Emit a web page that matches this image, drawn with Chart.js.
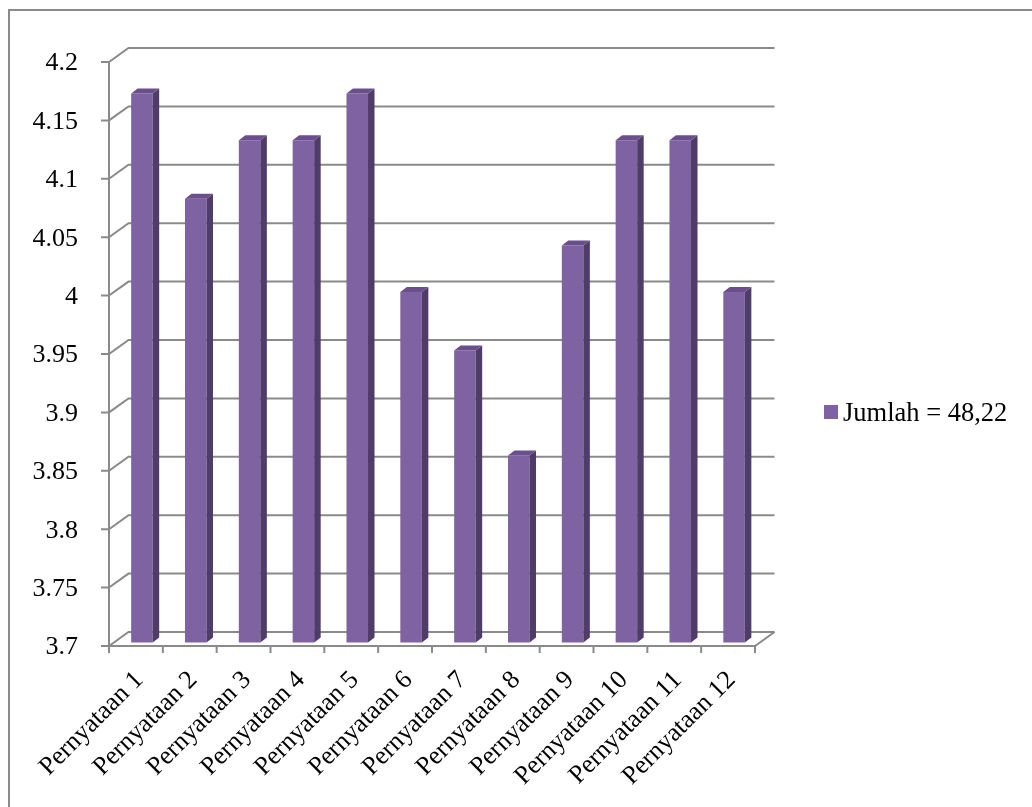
<!DOCTYPE html>
<html>
<head>
<meta charset="utf-8">
<title>Pernyataan</title>
<script src="https://cdn.jsdelivr.net/npm/chart.js@4.4.1/dist/chart.umd.min.js"></script>
<style>
  body { margin: 0; background: #fff; }
  #page { position: relative; width: 1032px; height: 807px; overflow: hidden; background: #fff; }
  #frame { position: absolute; left: 8px; top: 9px; width: 1060px; height: 840px; border: 2px solid #8a8a8a; }
  #box { position: absolute; left: 0; top: 0; width: 1032px; height: 807px; }
  #legend { position: absolute; left: 824px; top: 397px; font: 26.5px "Liberation Serif", "Times New Roman", serif; line-height: 30px; color: #000; }
  #legend .swatch { position: absolute; left: 0; top: 8px; width: 14px; height: 14px; }
  #legend .text { position: absolute; left: 19px; top: 0; white-space: nowrap; }
</style>
</head>
<body>
<div id="page">
  <div id="frame"></div>
  <div id="box"><canvas id="chart"></canvas></div>
  <div id="legend"></div>
</div>
<script>
const categories = ['Pernyataan 1', 'Pernyataan 2', 'Pernyataan 3', 'Pernyataan 4', 'Pernyataan 5', 'Pernyataan 6',
                    'Pernyataan 7', 'Pernyataan 8', 'Pernyataan 9', 'Pernyataan 10', 'Pernyataan 11', 'Pernyataan 12'];
const values = [4.17, 4.08, 4.13, 4.13, 4.17, 4.00, 3.95, 3.86, 4.04, 4.13, 4.13, 4.00];
const yTicks = [3.7, 3.75, 3.8, 3.85, 3.9, 3.95, 4, 4.05, 4.1, 4.15, 4.2];
const seriesLabel = 'Jumlah = 48,22';

const FRONT = { dx: -6, dy: 3.5 };    // front plane (axes) relative to bar faces
const BACK = { dx: 13.5, dy: -10.5 }; // back wall relative to bar faces
const DEPTH = { dx: 6.5, dy: -5 };    // depth of each bar
const GRID = '#8a8a8a';
const BAR_FRONT = '#7f62a1', BAR_TOP = '#6a4f8c', BAR_SIDE = '#4f3c68';
const serif = 'Liberation Serif, Times New Roman, serif';

Chart.defaults.font.family = serif;
Chart.defaults.color = '#000';

// draws the 3D walls, floor and axis lines behind the bars, then the bar sides on top
const frame3d = {
    id: 'frame3d',
    beforeDatasetsDraw(chart) {
        const { ctx, chartArea: a, scales: { x, y } } = chart;
        ctx.save();
        ctx.strokeStyle = GRID;
        ctx.lineWidth = 2;
        y.ticks.forEach(t => {
            const py = y.getPixelForValue(t.value);
            ctx.beginPath();
            ctx.moveTo(a.left + FRONT.dx - 8, py + FRONT.dy);
            ctx.lineTo(a.left + FRONT.dx, py + FRONT.dy);
            ctx.lineTo(a.left + BACK.dx, py + BACK.dy);
            ctx.lineTo(a.right + BACK.dx, py + BACK.dy);
            ctx.stroke();
        });
        // front value axis
        ctx.beginPath();
        ctx.moveTo(a.left + FRONT.dx, a.top + FRONT.dy);
        ctx.lineTo(a.left + FRONT.dx, a.bottom + FRONT.dy);
        ctx.stroke();
        // floor edges
        ctx.beginPath();
        ctx.moveTo(a.left + FRONT.dx, a.bottom + FRONT.dy);
        ctx.lineTo(a.right + FRONT.dx, a.bottom + FRONT.dy);
        ctx.lineTo(a.right + BACK.dx, a.bottom + BACK.dy);
        ctx.stroke();
        // category tick marks
        for (let i = 0; i <= categories.length; i++) {
            const px = x.getPixelForValue(i - 0.5) + FRONT.dx;
            ctx.beginPath();
            ctx.moveTo(px, a.bottom + FRONT.dy);
            ctx.lineTo(px, a.bottom + FRONT.dy + 7);
            ctx.stroke();
        }
        ctx.restore();
    },
    afterDatasetsDraw(chart) {
        const ctx = chart.ctx;
        const floor = chart.chartArea.bottom;
        ctx.save();
        chart.getDatasetMeta(0).data.forEach(bar => {
            const { x, y, base, width } = bar.getProps(['x', 'y', 'base', 'width'], true);
            const b = Math.min(base, floor);
            const l = x - width / 2, r = x + width / 2;
            ctx.fillStyle = BAR_SIDE;
            ctx.beginPath();
            ctx.moveTo(r, y);
            ctx.lineTo(r + DEPTH.dx, y + DEPTH.dy);
            ctx.lineTo(r + DEPTH.dx, b + DEPTH.dy);
            ctx.lineTo(r, b);
            ctx.closePath();
            ctx.fill();
            ctx.fillStyle = BAR_TOP;
            ctx.beginPath();
            ctx.moveTo(l, y);
            ctx.lineTo(l + DEPTH.dx, y + DEPTH.dy);
            ctx.lineTo(r + DEPTH.dx, y + DEPTH.dy);
            ctx.lineTo(r, y);
            ctx.closePath();
            ctx.fill();
        });
        ctx.restore();
    }
};

const ctx = document.getElementById('chart').getContext('2d');
const chart = new Chart(ctx, {
    type: 'bar',
    data: {
        labels: categories,
        datasets: [{
            label: seriesLabel,
            data: values,
            backgroundColor: BAR_FRONT,
            borderWidth: 0,
            barPercentage: 0.4,
            categoryPercentage: 1
        }]
    },
    options: {
        responsive: true,
        maintainAspectRatio: false,
        animation: false,
        layout: { padding: { left: 0, top: 58.5, right: 271, bottom: 0 } },
        plugins: {
            legend: { display: false },
            tooltip: { enabled: false }
        },
        scales: {
            x: {
                grid: { display: false },
                border: { display: false },
                ticks: {
                    autoSkip: false,
                    minRotation: 45,
                    maxRotation: 45,
                    padding: 14.5,
                    labelOffset: -2.5,
                    font: { family: serif, size: 26 }
                },
                afterFit(scale) { scale.height = 807 - 642.5; }
            },
            y: {
                min: 3.7,
                max: 4.2,
                grid: { display: false },
                border: { display: false },
                afterBuildTicks(scale) { scale.ticks = yTicks.map(v => ({ value: v })); },
                ticks: {
                    padding: 29,
                    labelOffset: 5,
                    font: { family: serif, size: 26 },
                    callback: value => String(value)
                },
                afterFit(scale) { scale.width = 115; }
            }
        }
    },
    plugins: [frame3d]
});

// legend built from the dataset
const ds = chart.data.datasets[0];
document.getElementById('legend').innerHTML =
    '<span class="swatch" style="background:' + ds.backgroundColor + '"></span><span class="text">' + ds.label + '</span>';
</script>
</body>
</html>
